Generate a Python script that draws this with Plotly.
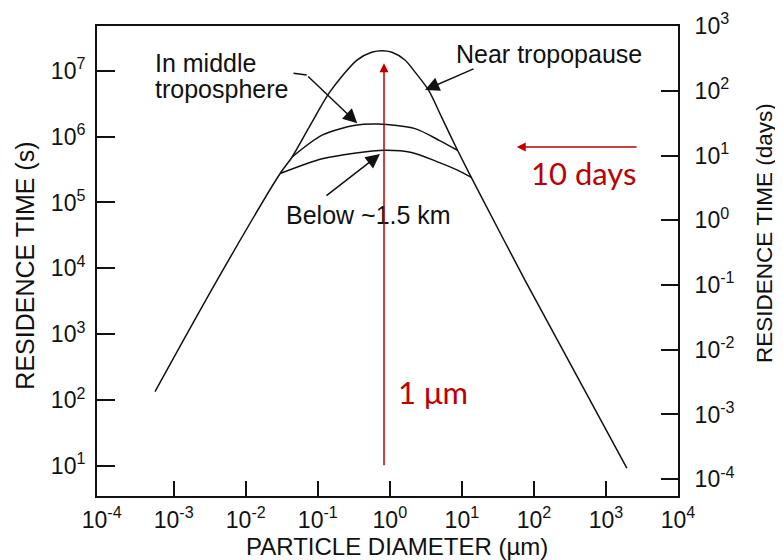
import math
import plotly.graph_objects as go

# ---------------- data ----------------
# Near tropopause curve: particle diameter (um) vs residence time (s)
near_tropopause_d = [5.5e-4, 3.9e-3, 0.030, 0.044, 0.079, 0.148, 0.35, 0.56, 0.78,
                     1.07, 1.62, 2.24, 3.43, 5.25, 8.7, 13.5, 77, 1950]
near_tropopause_t = [135, 6.3e3, 2.75e5, 4.9e5, 1.5e6, 4.8e6, 1.45e7, 1.9e7, 2.0e7,
                     1.9e7, 1.45e7, 9.5e6, 5.1e6, 1.95e6, 6.2e5, 2.4e5, 6.3e3, 9.3]

# In middle troposphere curve
middle_trop_d = [0.044, 0.115, 0.33, 0.69, 2.24, 4.9, 8.7]
middle_trop_t = [4.9e5, 1.05e6, 1.48e6, 1.55e6, 1.32e6, 8.7e5, 6.2e5]

# Below ~1.5 km curve
below_d = [0.030, 0.115, 0.32, 0.85, 2.0, 4.7, 8.7, 13.5]
below_t = [2.75e5, 4.6e5, 5.6e5, 6.2e5, 5.75e5, 4.1e5, 3.1e5, 2.4e5]

# Tick values and labels
x_tickvals = [1e-4, 1e-3, 1e-2, 1e-1, 1e0, 1e1, 1e2, 1e3, 1e4]
x_ticktext = ["10<sup>-4</sup>", "10<sup>-3</sup>", "10<sup>-2</sup>", "10<sup>-1</sup>",
              "10<sup>0</sup>", "10<sup>1</sup>", "10<sup>2</sup>", "10<sup>3</sup>",
              "10<sup>4</sup>"]
x_inner_ticks = [1e-3, 1e-2, 1e-1, 1e0, 1e1, 1e2, 1e3]
y_tickvals = [1e1, 1e2, 1e3, 1e4, 1e5, 1e6, 1e7]
y_ticktext = ["10<sup>1</sup>", "10<sup>2</sup>", "10<sup>3</sup>", "10<sup>4</sup>",
              "10<sup>5</sup>", "10<sup>6</sup>", "10<sup>7</sup>"]
y2_tickvals = [1e-4, 1e-3, 1e-2, 1e-1, 1e0, 1e1, 1e2, 1e3]
y2_ticktext = ["10<sup>-4</sup>", "10<sup>-3</sup>", "10<sup>-2</sup>", "10<sup>-1</sup>",
               "10<sup>0</sup>", "10<sup>1</sup>", "10<sup>2</sup>", "10<sup>3</sup>"]

# Annotation values
marker_diameter = 0.83      # "1 um" vertical arrow position (um)
arrow_t_low, arrow_t_high = 9.75, 1.3e7   # vertical arrow span (s)
ten_days = 13.5             # horizontal arrow level (days)
ten_days_d = (57.7, 2790)   # horizontal arrow span (um): tip, tail

# ---------------- styling ----------------
BLACK = "#111111"
RED = "#c00000"
FONT = "Liberation Sans, Arial, Helvetica, sans-serif"
RFONT = "Lato, Open Sans, sans-serif"

fig = go.Figure()
line_style = dict(color=BLACK, width=1.5, shape="spline", smoothing=0.8)
fig.add_trace(go.Scatter(x=near_tropopause_d, y=near_tropopause_t, mode="lines",
                         line=line_style, name="Near tropopause", hoverinfo="skip"))
fig.add_trace(go.Scatter(x=middle_trop_d, y=middle_trop_t, mode="lines",
                         line=line_style, name="In middle troposphere", hoverinfo="skip"))
fig.add_trace(go.Scatter(x=below_d, y=below_t, mode="lines",
                         line=line_style, name="Below ~1.5 km", hoverinfo="skip"))
# invisible trace so the days axis is built
fig.add_trace(go.Scatter(x=[None], y=[None], yaxis="y2", showlegend=False,
                         hoverinfo="skip"))

tickfont = dict(family=FONT, size=23, color=BLACK)

# page body has an 8px margin: shift the figure up/left accordingly
fig.update_layout(
    width=775, height=552,
    margin=dict(l=89, r=105, t=18, b=64, autoexpand=False),
    paper_bgcolor="white", plot_bgcolor="white",
    showlegend=False,
    xaxis=dict(type="log", range=[-4.065, 4.0], showgrid=False, zeroline=False,
               automargin=False,
               showline=True, linewidth=2, linecolor=BLACK, mirror=True,
               tickmode="array", tickvals=x_tickvals, ticktext=x_ticktext,
               ticks="", tickfont=tickfont, ticklabelstandoff=2,
               minor=dict(ticks="inside", tickmode="array", tickvals=x_inner_ticks,
                          ticklen=15, tickwidth=2, tickcolor=BLACK, showgrid=False)),
    yaxis=dict(type="log", range=[0.545, 7.678], showgrid=False, zeroline=False,
               automargin=False,
               showline=True, linewidth=2, linecolor=BLACK,
               tickmode="array", tickvals=y_tickvals, ticktext=y_ticktext,
               ticks="inside", ticklen=18, tickwidth=2, tickcolor=BLACK,
               tickfont=tickfont, ticklabelstandoff=5),
    yaxis2=dict(type="log", range=[-4.26, 3.001], overlaying="y", side="right",
                anchor="x", showgrid=False, zeroline=False, automargin=False,
                showline=True, linewidth=2, linecolor=BLACK,
                tickmode="array", tickvals=y2_tickvals, ticktext=y2_ticktext,
                ticks="inside", ticklen=17, tickwidth=2, tickcolor=BLACK,
                tickfont=tickfont, ticklabelstandoff=10),
)

ann = []
tfont = dict(family=FONT, size=24, color=BLACK)
# axis titles
ann.append(dict(text="RESIDENCE TIME (s)", xref="paper", yref="paper", x=-0.124, y=0.49,
                textangle=-90, showarrow=False, font=dict(family=FONT, size=25, color=BLACK),
                xanchor="center", yanchor="middle"))
ann.append(dict(text="PARTICLE DIAMETER (µm)", xref="paper", yref="paper", x=0.516, y=-0.108,
                showarrow=False, font=tfont, xanchor="center", yanchor="middle"))
ann.append(dict(text="RESIDENCE TIME (days)", xref="paper", yref="paper", x=1.1497, y=0.5596,
                textangle=-90, showarrow=False, font=dict(family=FONT, size=22.5, color=BLACK),
                xanchor="center", yanchor="middle"))

# curve labels
lab_font = dict(family=FONT, size=25, color=BLACK)
ann.append(dict(text="In middle", xref="paper", yref="paper", x=0.0964, y=0.921,
                xanchor="left", yanchor="middle", showarrow=False, font=lab_font))
ann.append(dict(text="troposphere", xref="paper", yref="paper", x=0.0964, y=0.867,
                xanchor="left", yanchor="middle", showarrow=False, font=lab_font))
ann.append(dict(text="Near tropopause", xref="paper", yref="paper", x=0.778, y=0.940,
                xanchor="center", yanchor="middle", showarrow=False, font=lab_font))
ann.append(dict(text="Below ~1.5 km", xref="paper", yref="paper", x=0.468, y=0.598,
                xanchor="center", yanchor="middle", showarrow=False, font=lab_font))

# black leader arrows (tips in log10 data units, tails as pixel offsets)
arrow_common = dict(xref="x", yref="y", text="", showarrow=True, arrowcolor=BLACK,
                    arrowwidth=1.5, standoff=0, startstandoff=0)
ann.append(dict(arrow_common, x=-0.452, y=6.201, ax=-50.6, ay=-48.3, arrowhead=2, arrowsize=1.9))
ann.append(dict(arrow_common, x=-1.154, y=6.934, ax=-14.7, ay=-2, arrowhead=0))
ann.append(dict(arrow_common, x=0.488, y=6.707, ax=50, ay=-21.7, arrowhead=2, arrowsize=1.9))
ann.append(dict(arrow_common, x=-0.137, y=5.735, ax=-55, ay=42.7, arrowhead=2, arrowsize=1.9))

# red arrows
ann.append(dict(xref="x", yref="y", axref="x", ayref="y", text="", showarrow=True,
                x=math.log10(marker_diameter), y=math.log10(arrow_t_high),
                ax=math.log10(marker_diameter), ay=math.log10(arrow_t_low),
                arrowcolor=RED, arrowwidth=1.5, arrowhead=2, arrowsize=1.2,
                standoff=0, startstandoff=0))
ann.append(dict(xref="x", yref="y2", axref="x", ayref="y2", text="", showarrow=True,
                x=math.log10(ten_days_d[0]), y=math.log10(ten_days),
                ax=math.log10(ten_days_d[1]), ay=math.log10(ten_days),
                arrowcolor=RED, arrowwidth=1.5, arrowhead=2, arrowsize=1.2,
                standoff=0, startstandoff=0))
ann.append(dict(text="10 days", xref="paper", yref="paper", x=0.838, y=0.687,
                xanchor="center", yanchor="middle", showarrow=False,
                font=dict(family=RFONT, size=31, color=RED)))
ann.append(dict(text="1 μm", xref="paper", yref="paper", x=0.578, y=0.221,
                xanchor="center", yanchor="middle", showarrow=False,
                font=dict(family=RFONT, size=31, color=RED)))

fig.update_layout(annotations=ann)
fig.write_html("out.html")
